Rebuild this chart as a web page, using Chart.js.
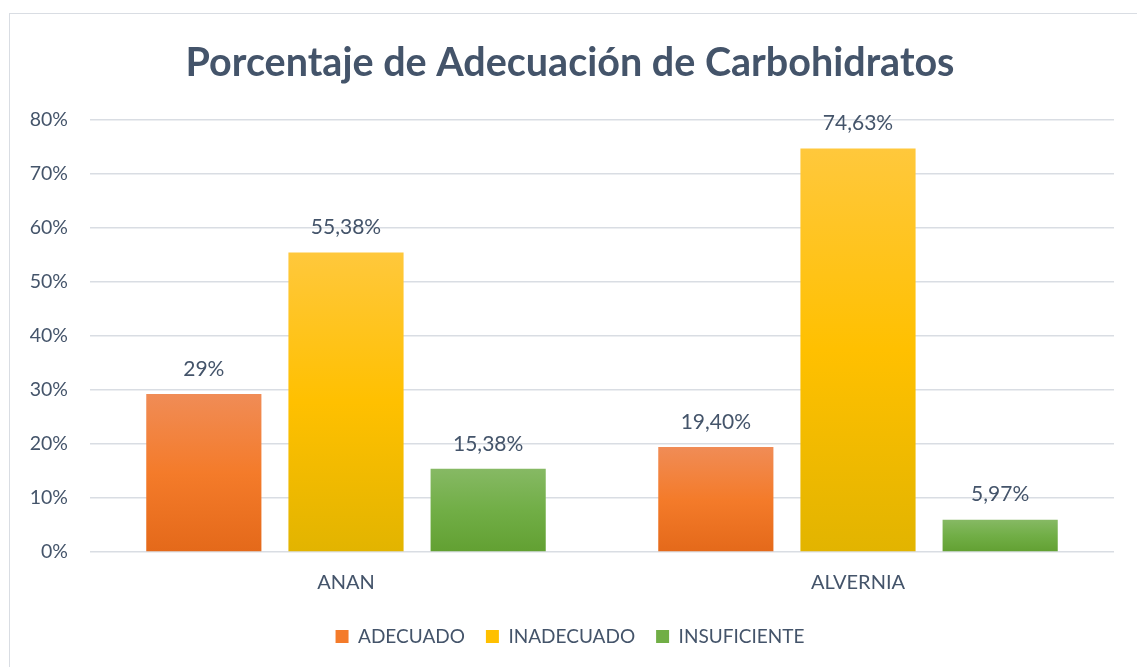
<!DOCTYPE html>
<html>
<head>
<meta charset="utf-8">
<script src="https://cdn.jsdelivr.net/npm/chart.js@4"></script>
<style>
  html, body { margin: 0; padding: 0; background: #fff; overflow: hidden; }
  #box { position: absolute; left: 9px; top: 13px; width: 1140px; height: 670px;
         border: 1.5px solid #D9DDE3; box-sizing: border-box; }
  #wrap { position: absolute; left: 0; top: 0; width: 1128px; height: 654px; }
</style>
</head>
<body>
<div id="box"><div id="wrap"><canvas id="chart"></canvas></div></div>
<script>
var categories = ['ANAN', 'ALVERNIA'];
var seriesNames = ['ADECUADO', 'INADECUADO', 'INSUFICIENTE'];
var adecuado = [29.2, 19.40];
var inadecuado = [55.38, 74.63];
var insuficiente = [15.38, 5.97];
var adecuadoLabels = ['29%', '19,40%'];
var inadecuadoLabels = ['55,38%', '74,63%'];
var insuficienteLabels = ['15,38%', '5,97%'];
var yTicks = [0, 10, 20, 30, 40, 50, 60, 70, 80];

var textColor = '#44546A';
var fontName = 'Lato, "Open Sans", sans-serif';

// top, middle, bottom colours for each series (Excel style gradient)
var shades = [
    ['#F08C56', '#F47B2A', '#E4691A'],
    ['#FFC83C', '#FFC000', '#E2B400'],
    ['#86B964', '#71AE46', '#62A032']
];

function barFill(idx){
    return function(context){
        var chart = context.chart;
        if (!chart.chartArea || context.type !== 'data') return shades[idx][1];
        var y = chart.scales.y;
        var top = y.getPixelForValue(context.raw);
        var base = y.getPixelForValue(0);
        if (base - top < 1) return shades[idx][1];
        var g = chart.ctx.createLinearGradient(0, top, 0, base);
        g.addColorStop(0, shades[idx][0]);
        g.addColorStop(0.5, shades[idx][1]);
        g.addColorStop(1, shades[idx][2]);
        return g;
    };
}

var valueLabels = {
    id: 'valueLabels',
    afterDatasetsDraw: function(chart){
        var ctx = chart.ctx;
        ctx.save();
        ctx.font = '21px ' + fontName;
        ctx.fillStyle = textColor;
        ctx.textAlign = 'center';
        ctx.textBaseline = 'middle';
        chart.data.datasets.forEach(function(ds, i){
            chart.getDatasetMeta(i).data.forEach(function(bar, j){
                ctx.fillText(ds.labelsText[j], bar.x, bar.y - 25);
            });
        });
        ctx.restore();
    }
};

var graphData = {
    labels: categories,
    datasets: [
        { label: seriesNames[0], data: adecuado, labelsText: adecuadoLabels, backgroundColor: barFill(0) },
        { label: seriesNames[1], data: inadecuado, labelsText: inadecuadoLabels, backgroundColor: barFill(1) },
        { label: seriesNames[2], data: insuficiente, labelsText: insuficienteLabels, backgroundColor: barFill(2) }
    ]
};

new Chart(document.getElementById('chart'), {
    type: 'bar',
    data: graphData,
    plugins: [valueLabels],
    options: {
        responsive: true,
        maintainAspectRatio: false,
        animation: false,
        categoryPercentage: 0.833,
        barPercentage: 0.81,
        layout: { padding: { left: 16, right: 24, top: 26, bottom: 12 } },
        plugins: {
            title: {
                display: true,
                text: 'Porcentaje de Adecuación de Carbohidratos',
                color: textColor,
                font: { family: fontName, size: 39.5, weight: 'bold' },
                padding: { top: 0, bottom: 32 }
            },
            legend: {
                position: 'bottom',
                labels: {
                    color: textColor,
                    font: { family: fontName, size: 19 },
                    boxWidth: 13,
                    boxHeight: 13,
                    padding: 21,
                    generateLabels: function(chart){
                        return seriesNames.map(function(n, i){
                            return { text: n, fillStyle: shades[i][1], strokeStyle: shades[i][1],
                                     lineWidth: 0, datasetIndex: i, fontColor: textColor };
                        });
                    }
                }
            },
            tooltip: { enabled: false }
        },
        scales: {
            x: {
                grid: { display: false },
                border: { display: false },
                ticks: { color: textColor, font: { family: fontName, size: 20 }, padding: 11 }
            },
            y: {
                min: 0,
                max: 80,
                afterBuildTicks: function(axis){
                    axis.ticks = yTicks.map(function(v){ return { value: v }; });
                },
                afterFit: function(axis){ axis.width = 64; },
                grid: { color: '#D9DDE3', lineWidth: 1.5, drawTicks: false },
                border: { display: false },
                ticks: {
                    color: textColor,
                    font: { family: fontName, size: 19.5 },
                    padding: 22,
                    callback: function(v){ return v + '%'; }
                }
            }
        }
    }
});
</script>
</body>
</html>
